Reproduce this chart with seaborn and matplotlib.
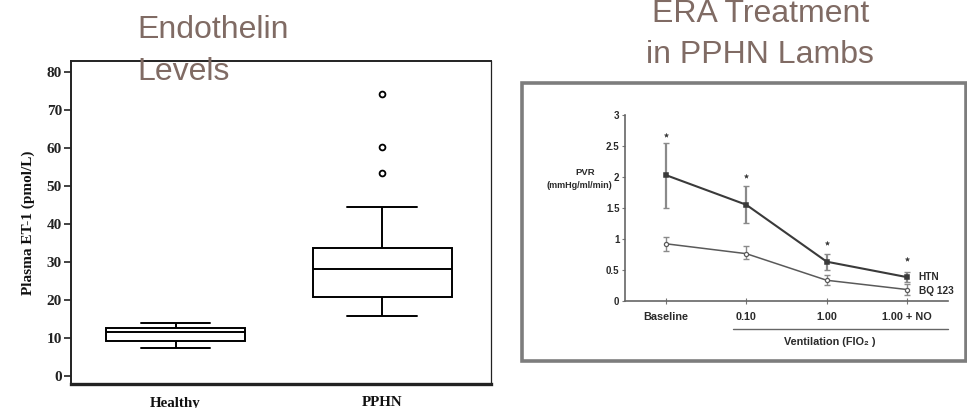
import numpy as np
import pandas as pd
import matplotlib
matplotlib.use("Agg")
import matplotlib.pyplot as plt
from matplotlib.patches import Rectangle
import seaborn as sns

# ---------------- data ----------------
groups = ["Healthy", "PPHN"]
healthy_vals = [7.5, 9.2, 11.5, 12.7, 13.9]
pphn_vals = [15.8, 17.5, 19.0, 20.2, 20.9, 23.0, 25.0, 26.5, 28.1,
             29.5, 31.0, 32.5, 33.6, 44.6, 53.5, 60.3, 74.3]
left_yticks = [0, 10, 20, 30, 40, 50, 60, 70, 80]

conditions = ["Baseline", "0.10", "1.00", "1.00 + NO"]
htn_mean = [2.03, 1.55, 0.63, 0.38]
htn_lo = [1.50, 1.25, 0.50, 0.30]
htn_hi = [2.55, 1.86, 0.76, 0.47]
bq_mean = [0.92, 0.76, 0.33, 0.18]
bq_lo = [0.80, 0.67, 0.25, 0.10]
bq_hi = [1.03, 0.88, 0.42, 0.27]
star_y = [2.68, 2.02, 0.93, 0.67]
right_yticks = [0, 0.5, 1, 1.5, 2, 2.5, 3]
right_yticklabels = ["0", "0.5", "1", "1.5", "2", "2.5", "3"]

sns.set_style("ticks")
plt.rcParams["font.family"] = ["Liberation Sans", "DejaVu Sans"]

W, H = 967, 408
fig = plt.figure(figsize=(W / 100, H / 100), dpi=100)

def fx(px):
    return px / W

def fy(py):
    return 1 - py / H

title_color = "#806b64"

# ---------------- left panel: box plot ----------------
ax1 = fig.add_axes([fx(71), fy(384), fx(490.7 - 71), (384 - 61) / H])
df = pd.DataFrame({
    "group": ["Healthy"] * len(healthy_vals) + ["PPHN"] * len(pphn_vals),
    "value": healthy_vals + pphn_vals,
})
sns.boxplot(data=df, x="group", y="value", order=groups, width=0.673,
            color="white", linecolor="black", linewidth=1.4, whis=1.5,
            flierprops=dict(marker="o", markerfacecolor="white",
                            markeredgecolor="black", markersize=4.2,
                            markeredgewidth=1.3),
            ax=ax1)
ax1.set_xlim(-0.506, 1.526)
ax1.set_ylim(-2.1, 82.9)
ax1.set_yticks(left_yticks)
ax1.set_yticklabels([str(v) for v in left_yticks],
                    fontfamily="Liberation Serif", fontweight="bold",
                    fontsize=11, color="#222222")
ax1.set_xticks(range(len(groups)))
ax1.set_xticklabels(groups, fontfamily="Liberation Serif", fontweight="bold",
                    fontsize=10.8, color="#111111")
ax1.tick_params(axis="y", length=5, width=1.2, color="#222222", pad=1.5,
                direction="out")
ax1.tick_params(axis="x", length=0, pad=9)
ax1.set_xlabel("")
ax1.set_ylabel("Plasma ET-1 (pmol/L)", fontfamily="Liberation Serif",
               fontweight="bold", fontsize=11, color="#111111", labelpad=8)
for side in ["left", "top", "right", "bottom"]:
    ax1.spines[side].set_visible(True)
    ax1.spines[side].set_color("#222222")
ax1.spines["left"].set_linewidth(1.4)
ax1.spines["top"].set_linewidth(1.4)
ax1.spines["right"].set_linewidth(0.9)
ax1.spines["bottom"].set_linewidth(2.4)

fig.text(fx(137), fy(38), "Endothelin", fontsize=23, color=title_color,
         ha="left", va="baseline", zorder=10)
fig.text(fx(137), fy(80), "Levels", fontsize=23, color=title_color,
         ha="left", va="baseline", zorder=10)

# ---------------- right panel: line chart ----------------
fig.patches.append(Rectangle((fx(522), fy(361)), fx(966 - 522), (361 - 83) / H,
                             transform=fig.transFigure, fill=False,
                             edgecolor="#7d7d7d", linewidth=2.6))

fig.text(fx(761), fy(22), "ERA Treatment", fontsize=23, color=title_color,
         ha="center", va="baseline")
fig.text(fx(760), fy(63), "in PPHN Lambs", fontsize=23, color=title_color,
         ha="center", va="baseline")

ax2 = fig.add_axes([fx(625), fy(300.7), fx(948 - 625), (300.7 - 115) / H])
xpos = np.arange(len(conditions))

htn_mean_a = np.array(htn_mean)
bq_mean_a = np.array(bq_mean)
ax2.errorbar(xpos, htn_mean_a,
             yerr=[htn_mean_a - np.array(htn_lo), np.array(htn_hi) - htn_mean_a],
             fmt="none", ecolor="#8a8a8a", elinewidth=1.6, capsize=2.2,
             capthick=1.0, zorder=2, clip_on=False)
ax2.errorbar(xpos, bq_mean_a,
             yerr=[bq_mean_a - np.array(bq_lo), np.array(bq_hi) - bq_mean_a],
             fmt="none", ecolor="#8a8a8a", elinewidth=1.0, capsize=2.2,
             capthick=1.0, zorder=2, clip_on=False)

sns.pointplot(x=conditions, y=htn_mean, order=conditions, errorbar=None,
              color="#3a3a3a", markers="s", linestyles="-", linewidth=1.5,
              markersize=3.0, ax=ax2)
sns.pointplot(x=conditions, y=bq_mean, order=conditions, errorbar=None,
              color="#5a5a5a", markers="o", linestyles="-", linewidth=1.1,
              markersize=3.0, markerfacecolor="white", markeredgewidth=0.9,
              ax=ax2)
sns.pointplot(x=conditions, y=star_y, order=conditions, errorbar=None,
              color="#333333", markers="*", linestyles="none",
              markersize=3.2, markeredgewidth=0.3, ax=ax2)
for ln in ax2.lines:
    ln.set_clip_on(False)

ax2.set_xlim(-0.506, 3.506)
ax2.set_ylim(0, 3)
ax2.set_yticks(right_yticks)
ax2.set_yticklabels(right_yticklabels, fontweight="bold", fontsize=7,
                    color="#2a2a2a")
ax2.set_xticks(xpos)
ax2.set_xticklabels(conditions, fontweight="bold", fontsize=7.8,
                    color="#2a2a2a")
ax2.tick_params(axis="y", length=2.5, width=0.8, color="#777777", pad=1.5)
ax2.tick_params(axis="x", length=4, width=0.8, color="#777777",
                direction="inout", pad=6)
ax2.set_xlabel("")
ax2.set_ylabel("")
for side in ["top", "right"]:
    ax2.spines[side].set_visible(False)
for side in ["left", "bottom"]:
    ax2.spines[side].set_color("#666666")
    ax2.spines[side].set_linewidth(1.2)
ax2.grid(False)

# series labels
ax2.text(3 + 0.14, htn_mean[-1], "HTN", fontweight="bold", fontsize=7.3,
         color="#2a2a2a", va="center", ha="left")
ax2.text(3 + 0.14, bq_mean[-1] - 0.02, "BQ 123", fontweight="bold",
         fontsize=7.3, color="#2a2a2a", va="center", ha="left")

# y-axis label
fig.text(fx(585), fy(172), "PVR", fontweight="bold", fontsize=6.8,
         color="#2a2a2a", ha="center", va="center")
fig.text(fx(579), fy(186), "(mmHg/ml/min)", fontweight="bold", fontsize=6.5,
         color="#2a2a2a", ha="center", va="center")

# ventilation bracket line + label
trans = ax2.get_xaxis_transform()
ax2.plot([0.836, 3.506], [-0.155, -0.155], transform=trans, color="#666666",
         linewidth=1.0, clip_on=False)
fig.text(fx(830), fy(342), "Ventilation (FIO\u2082 )", fontweight="bold",
         fontsize=7.8, color="#2a2a2a", ha="center", va="center",
         family=["Liberation Sans", "DejaVu Sans"])

fig.savefig("out.png", dpi=100, facecolor="white")
